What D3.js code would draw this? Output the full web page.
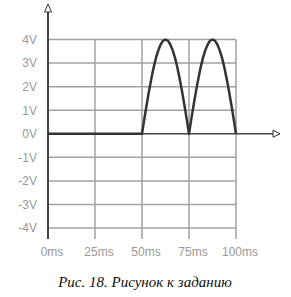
<!DOCTYPE html>
<html><head><meta charset="utf-8">
<script src="https://cdn.jsdelivr.net/npm/d3@7/dist/d3.min.js"></script>
<style>body{margin:0;background:#fff}svg{display:block}
.cap{font-family:"Liberation Serif","Times New Roman",serif;font-style:italic}</style>
</head><body>
<script>
const timeTicks = [0, 25, 50, 75, 100];
const timeLabels = ["0ms", "25ms", "50ms", "75ms", "100ms"];
const voltTicks = [4, 3, 2, 1, 0, -1, -2, -3, -4];
const voltLabels = ["4V", "3V", "2V", "1V", "0V", "-1V", "-2V", "-3V", "-4V"];
const signalTime = [0, 50, 51.25, 52.5, 53.75, 55, 56.25, 57.5, 58.75, 60, 61.25, 62.5, 63.75, 65, 66.25, 67.5, 68.75, 70, 71.25, 72.5, 73.75, 75,
  76.25, 77.5, 78.75, 80, 81.25, 82.5, 83.75, 85, 86.25, 87.5, 88.75, 90, 91.25, 92.5, 93.75, 95, 96.25, 97.5, 98.75, 100];
const signalVolt = [0, 0, 0.63, 1.24, 1.82, 2.35, 2.83, 3.24, 3.56, 3.80, 3.95, 4.0, 3.95, 3.80, 3.56, 3.24, 2.83, 2.35, 1.82, 1.24, 0.63, 0,
  0.63, 1.24, 1.82, 2.35, 2.83, 3.24, 3.56, 3.80, 3.95, 4.0, 3.95, 3.80, 3.56, 3.24, 2.83, 2.35, 1.82, 1.24, 0.63, 0];
const caption = "Рис. 18. Рисунок к заданию";

const W = 291, H = 297;
const svg = d3.select("body").append("svg").attr("width", W).attr("height", H);
const x = d3.scaleLinear().domain([0, 100]).range([48, 236]);
const y = d3.scaleLinear().domain([-4, 4]).range([228, 39.5]);
const gridColor = "#a0a0a0", axisColor = "#444", labelColor = "#999";

svg.append("g").selectAll("line").data(timeTicks.slice(1)).join("line")
  .attr("x1", d => x(d)).attr("x2", d => x(d))
  .attr("y1", y(4)).attr("y2", 239)
  .attr("stroke", gridColor).attr("stroke-width", 1.5);
svg.append("g").selectAll("line").data(voltTicks.filter(v => v !== 0)).join("line")
  .attr("x1", x(0)).attr("x2", x(100))
  .attr("y1", d => y(d)).attr("y2", d => y(d))
  .attr("stroke", gridColor).attr("stroke-width", 1.5);

svg.append("line").attr("x1", x(0)).attr("x2", x(0)).attr("y1", 12).attr("y2", 239)
  .attr("stroke", axisColor).attr("stroke-width", 2);
svg.append("path").attr("d", `M${x(0)},4 L${x(0)-3.5},12 L${x(0)+3.5},12 Z`)
  .attr("fill", "#fff").attr("stroke", "#333").attr("stroke-width", 1);
svg.append("line").attr("x1", x(0)).attr("x2", 273).attr("y1", y(0)).attr("y2", y(0))
  .attr("stroke", axisColor).attr("stroke-width", 1.5);
svg.append("path").attr("d", `M273,${y(0)-3.5} L280,${y(0)} L273,${y(0)+3.5} Z`)
  .attr("fill", "#fff").attr("stroke", "#333").attr("stroke-width", 1);

svg.append("g").selectAll("text").data(voltTicks).join("text")
  .attr("x", 37).attr("y", d => y(d)).attr("dy", "0.36em")
  .attr("text-anchor", "end").attr("fill", labelColor)
  .attr("font-family", "Liberation Sans, Arial, sans-serif").attr("font-size", 12)
  .text((d, i) => voltLabels[i]);
svg.append("g").selectAll("text").data(timeTicks).join("text")
  .attr("x", d => x(d) + 4).attr("y", 256)
  .attr("text-anchor", "middle").attr("fill", labelColor)
  .attr("font-family", "Liberation Sans, Arial, sans-serif").attr("font-size", 12)
  .text((d, i) => timeLabels[i]);

const pts = signalTime.map((t, i) => [t, signalVolt[i]]);
svg.append("path").datum(pts)
  .attr("d", d3.line().x(d => x(d[0])).y(d => y(d[1])))
  .attr("fill", "none").attr("stroke", "#333").attr("stroke-width", 2.5)
  .attr("stroke-linejoin", "round");

svg.append("text").attr("class", "cap").attr("x", 145).attr("y", 287).attr("text-anchor", "middle")
  .attr("font-size", 15).attr("fill", "#111").text(caption);
</script>
</body></html>
